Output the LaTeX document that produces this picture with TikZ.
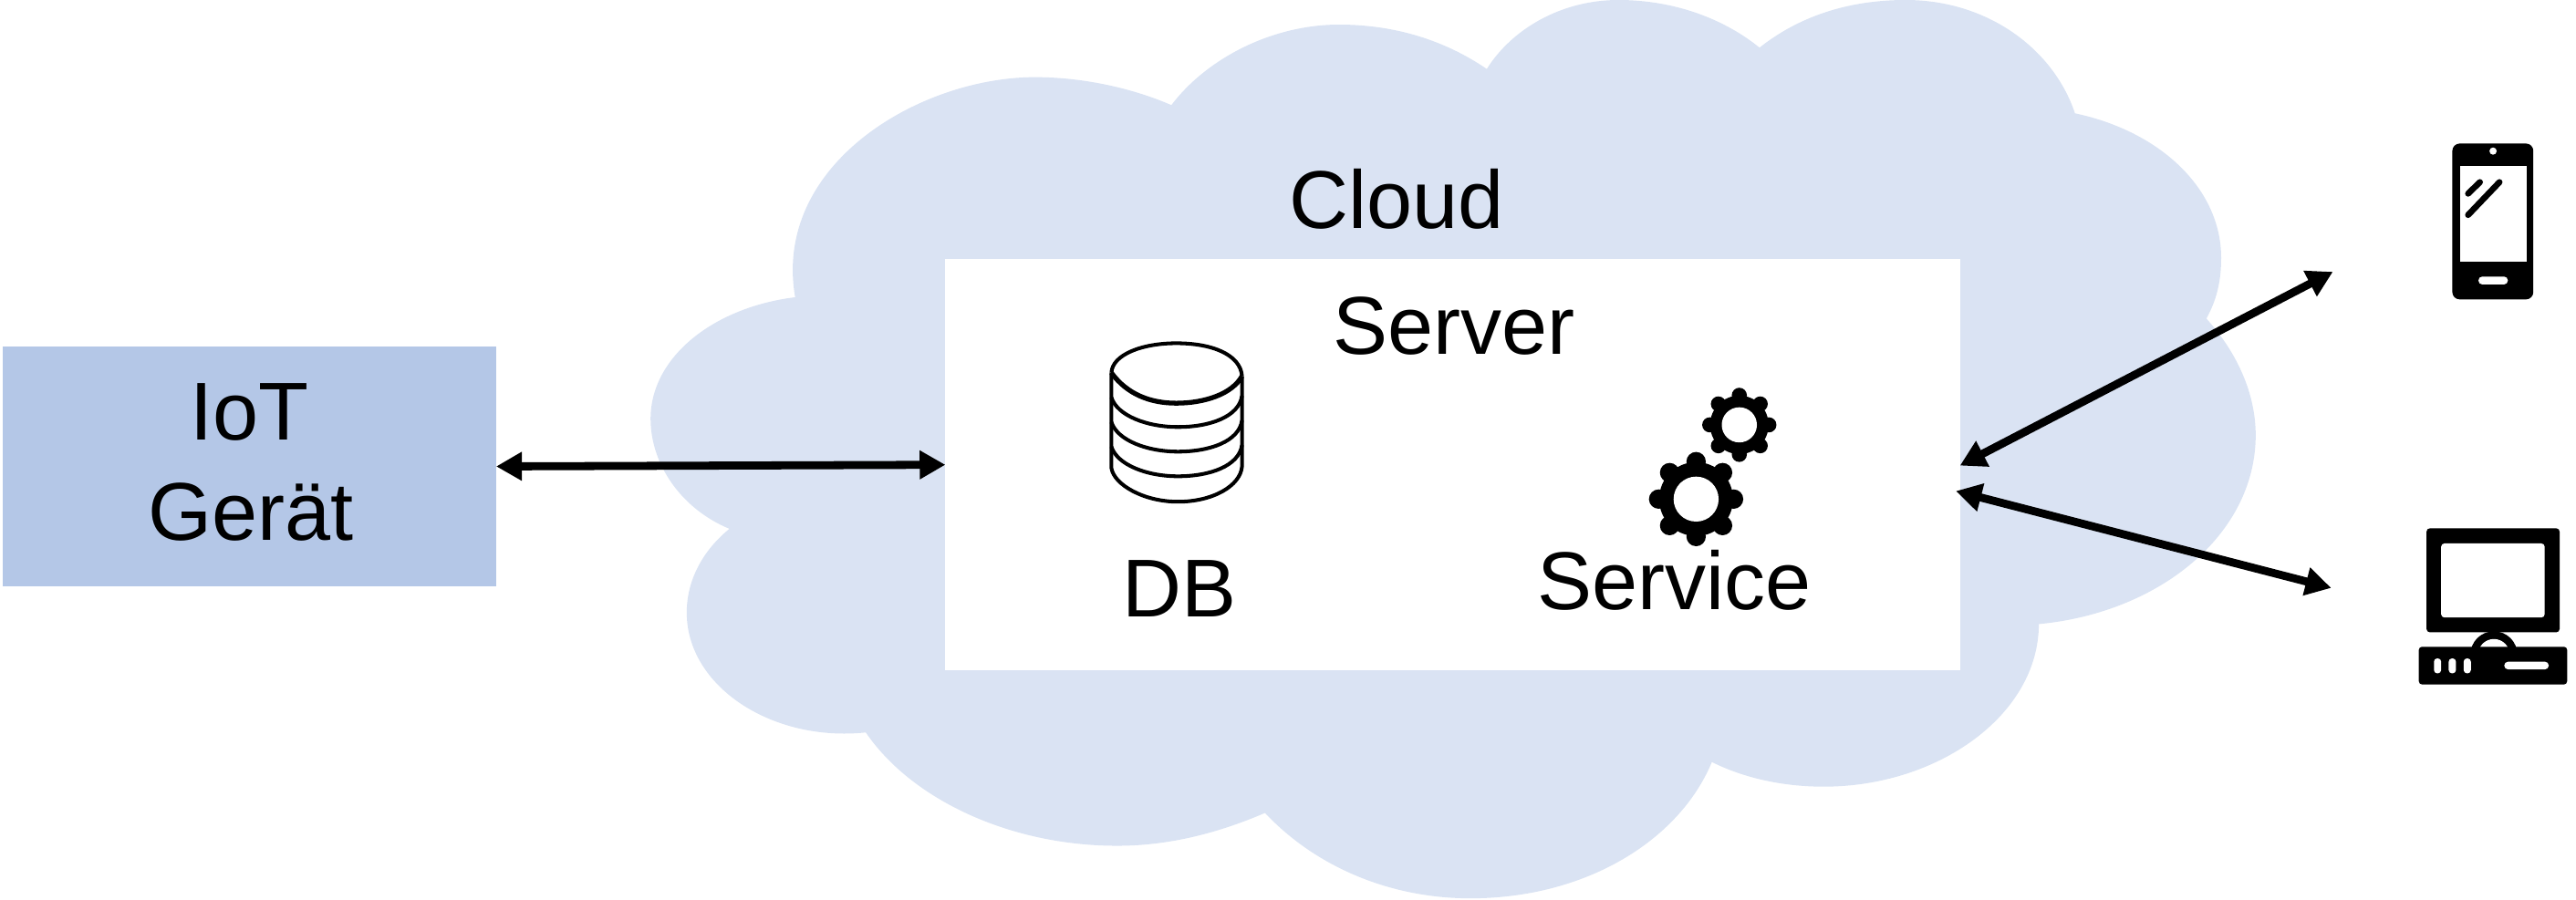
\documentclass[tikz,border=0pt]{standalone}
\usepackage{fontspec}
\setmainfont{Liberation Sans}
\usetikzlibrary{arrows.meta,calc}
\definecolor{cloudblue}{HTML}{DAE3F3}
\definecolor{iotblue}{HTML}{B4C7E7}
\tikzset{
  box/.style={rectangle,inner sep=0pt,outer sep=0pt},
  lbl/.style={anchor=base,inner sep=0pt,font=\fontsize{25.6}{30}\selectfont},
  link/.style={line width=2.5pt,{Triangle[length=8pt,width=8.5pt]}-{Triangle[length=8pt,width=8.5pt]}},
  dbline/.style={line width=1.15pt,draw=black},
}
\newcommand{\mygear}[6]{% x,y,body radius,hole radius,bump centre radius,bump radius
  \fill[black] (#1,#2) circle[radius=#3];
  \foreach \a in {0,45,...,315}{
    \fill[black] ($(#1,#2)+(\a:#5)$) circle[radius=#6];
  }
  \fill[white] (#1,#2) circle[radius=#4];
}
\begin{document}
\begin{tikzpicture}[x=0.018010cm,y=-0.018010cm]
\useasboundingbox (0,0) rectangle (1568,547.47);
% cloud
\fill[cloudblue] (484,181)
 .. controls (470,100) and (560,47) .. (630,47) .. controls (660,47) and (690,54) .. (713,64)
 .. controls (735,35) and (775,15) .. (815,15) .. controls (850,15) and (880,25) .. (905,42)
 .. controls (920,18) and (950,0) .. (985,0) .. controls (1020,0) and (1050,12) .. (1071,29)
 .. controls (1095,10) and (1125,0) .. (1160,0) .. controls (1210,0) and (1250,30) .. (1263,69)
 .. controls (1315,80) and (1352,115) .. (1352,157) .. controls (1352,172) and (1349,183) .. (1343,194)
 .. controls (1362,215) and (1373,240) .. (1373,265) .. controls (1373,325) and (1315,373) .. (1241,380)
 .. controls (1241,435) and (1180,479) .. (1110,479) .. controls (1086,479) and (1062,474) .. (1042,464)
 .. controls (1022,512) and (965,547) .. (895,547) .. controls (845,547) and (800,527) .. (770,495)
 .. controls (742,507) and (712,515) .. (680,515) .. controls (615,515) and (555,487) .. (527,446)
 .. controls (470,452) and (418,418) .. (418,373) .. controls (418,353) and (428,335) .. (444,322)
 .. controls (415,310) and (396,283) .. (396,255) .. controls (396,217) and (435,187) .. (484,181) -- cycle;
% boxes
\node[box,fill=iotblue,minimum width=5.412cm,minimum height=2.630cm] (iot) at (151.75,284) {};
\node[box,fill=white,minimum width=11.121cm,minimum height=4.503cm] (server) at (884.25,283) {};
% labels
\node[lbl] (cloudlbl) at (850,139) {Cloud};
\node[lbl] (serverlbl) at (885,215.5) {Server};
\node[lbl] (iotlbl) at (152,268) {IoT};
\node[lbl] (geraet) at (152.5,329) {Gerät};
\node[lbl] (dblbl) at (718,375.5) {DB};
\node[lbl] (servicelbl) at (1019,371) {Service};
% free ends
\coordinate (srvA) at (1193,283.5);
\coordinate (srvB) at (1190.5,299);
\coordinate (phoneEnd) at (1420,165.5);
\coordinate (pcEnd) at (1419,358);
% connectors
\draw[link] (iot.east) -- (server.west);
\draw[link] (srvA) -- (phoneEnd);
\draw[link] (srvB) -- (pcEnd);
% database
\begin{scope}[dbline]
  \draw (676.5,227) -- (676.5,285) .. controls (678,295) and (696,305.5) .. (717,305.5) .. controls (738,305.5) and (755,296) .. (756,284) -- (756,229);
  \draw (676.5,227) .. controls (677,216) and (695,209) .. (716,209) .. controls (738,209) and (755,216) .. (756,229);
  \draw[line width=1.5pt] (676.5,227) .. controls (686,240) and (700,245.5) .. (716,245.5) .. controls (733,245.5) and (750,240) .. (756,229);
  \foreach \yy in {243,258,273}{
    \draw (676.5,\yy-1) .. controls (680,\yy+10) and (698,\yy+17) .. (717,\yy+17) .. controls (736,\yy+17) and (754,\yy+11) .. (756,\yy-2);
  }
\end{scope}
% gears
\mygear{1032.4}{303.9}{22.5}{13.7}{22.8}{5.9}
\mygear{1058.7}{258.7}{17.8}{10.7}{18}{4.6}
% phone
\fill[black,rounded corners=0.8mm] (1492.7,87.4) rectangle (1542,182.3);
\fill[white] (1497.3,101) rectangle (1537.8,159.5);
\fill[white] (1517.5,92) circle[radius=2.2];
\fill[white,rounded corners=0.42mm] (1508.6,168.4) rectangle (1526.5,173.2);
\draw[black,line width=1.9pt,line cap=round] (1502.3,117.9) -- (1509.5,110.9);
\draw[black,line width=1.9pt,line cap=round] (1502.3,130.9) -- (1521.4,110.9);
% computer
\fill[black] (1518,398.7) circle[radius=14.3];
\fill[white] (1518,398.7) circle[radius=9.6];
\fill[black,rounded corners=0.36mm] (1477,321.7) rectangle (1558,385);
\fill[white,rounded corners=0.36mm] (1485.9,330.9) rectangle (1548.9,376);
\fill[black,rounded corners=0.36mm] (1472.3,393.8) rectangle (1562.6,416.8);
\foreach \xx in {1481.5,1490.5,1499.6}{\fill[white,rounded corners=0.36mm] (\xx,400.9) rectangle (\xx+4.4,410);}
\fill[white,rounded corners=0.42mm] (1524.3,402.9) rectangle (1551.4,407.6);
\end{tikzpicture}
\end{document}
